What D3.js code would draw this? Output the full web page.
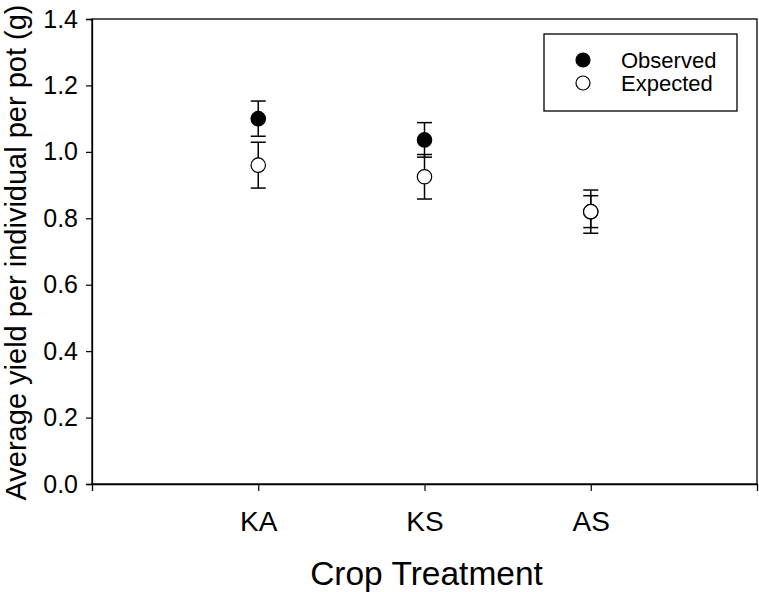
<!DOCTYPE html>
<html>
<head>
<meta charset="utf-8">
<script src="https://cdn.jsdelivr.net/npm/d3@7"></script>
<style>
  body { margin: 0; background: #fff; }
  text { font-family: "Liberation Sans", Arial, sans-serif; fill: #000; }
</style>
</head>
<body>
<svg id="chart" width="759" height="592"></svg>
<script>
const categories = ["KA", "KS", "AS"];
const observed = [1.10, 1.036, 0.82];
const observedErr = [0.053, 0.052, 0.048];
const expected = [0.96, 0.925, 0.82];
const expectedErr = [0.069, 0.067, 0.065];
const yTicks = [0.0, 0.2, 0.4, 0.6, 0.8, 1.0, 1.2, 1.4];
const seriesNames = ["Observed", "Expected"];

const svg = d3.select("#chart");
const plotLeft = 92, plotRight = 757, plotTop = 19, plotBottom = 484;

const x = d3.scaleLinear().domain([0, categories.length + 1]).range([plotLeft, plotRight]);
const y = d3.scaleLinear().domain([0, 1.4]).range([plotBottom, plotTop]);

// frame
svg.append("rect")
  .attr("x", plotLeft).attr("y", plotTop)
  .attr("width", plotRight - plotLeft).attr("height", plotBottom - plotTop)
  .attr("fill", "none").attr("stroke", "#000").attr("stroke-width", 1.3);

// y axis
const yAxis = svg.append("g")
  .attr("transform", `translate(${plotLeft},0)`)
  .call(d3.axisLeft(y).tickValues(yTicks).tickFormat(d3.format(".1f")).tickSize(6).tickPadding(8));
yAxis.select(".domain").attr("stroke-width", 1.3);
yAxis.selectAll(".tick line").attr("stroke-width", 1.2);
yAxis.selectAll("text").style("font-size", "25px").attr("font-family", "Liberation Sans, Arial, sans-serif");

// x axis
const xAxis = svg.append("g")
  .attr("transform", `translate(0,${plotBottom})`)
  .call(d3.axisBottom(x).tickValues(categories.map((c, i) => i + 1))
    .tickFormat((d) => categories[d - 1]).tickSize(7).tickPadding(20));
xAxis.select(".domain").attr("stroke-width", 1.3);
xAxis.selectAll(".tick line").attr("stroke-width", 1.2);
xAxis.selectAll("text").style("font-size", "28px").attr("font-family", "Liberation Sans, Arial, sans-serif");

// titles
svg.append("text")
  .attr("x", (plotLeft + plotRight) / 2 + 2).attr("y", 585)
  .attr("text-anchor", "middle").style("font-size", "33.5px")
  .text("Crop Treatment");
svg.append("text")
  .attr("transform", `translate(26,${(plotTop + plotBottom) / 2 + 1}) rotate(-90)`)
  .attr("text-anchor", "middle").style("font-size", "29px")
  .text("Average yield per individual per pot (g)");

// series
const series = [
  { name: seriesNames[0], vals: observed, errs: observedErr, fill: "#000" },
  { name: seriesNames[1], vals: expected, errs: expectedErr, fill: "#fff" }
];
const cap = 7.5, r = 7.2;

series.forEach((s) => {
  const g = svg.append("g");
  s.vals.forEach((v, i) => {
    const cx = x(i + 1);
    const e = s.errs[i];
    g.append("line").attr("x1", cx).attr("x2", cx)
      .attr("y1", y(v - e)).attr("y2", y(v + e))
      .attr("stroke", "#000").attr("stroke-width", 1.5);
    [v - e, v + e].forEach((yy) => {
      g.append("line").attr("x1", cx - cap).attr("x2", cx + cap)
        .attr("y1", y(yy)).attr("y2", y(yy))
        .attr("stroke", "#000").attr("stroke-width", 1.5);
    });
  });
});
series.forEach((s) => {
  s.vals.forEach((v, i) => {
    svg.append("circle").attr("cx", x(i + 1)).attr("cy", y(v)).attr("r", r)
      .attr("fill", s.fill).attr("stroke", "#000").attr("stroke-width", 1.2);
  });
});

// legend
const lg = svg.append("g");
lg.append("rect").attr("x", 544).attr("y", 34).attr("width", 193).attr("height", 77)
  .attr("fill", "#fff").attr("stroke", "#000").attr("stroke-width", 1.3);
series.forEach((s, i) => {
  const ly = 60 + i * 23;
  lg.append("circle").attr("cx", 583).attr("cy", ly).attr("r", 7)
    .attr("fill", s.fill).attr("stroke", "#000").attr("stroke-width", 1.2);
  lg.append("text").attr("x", 621).attr("y", ly + 8)
    .style("font-size", "22px").text(s.name);
});
</script>
</body>
</html>
